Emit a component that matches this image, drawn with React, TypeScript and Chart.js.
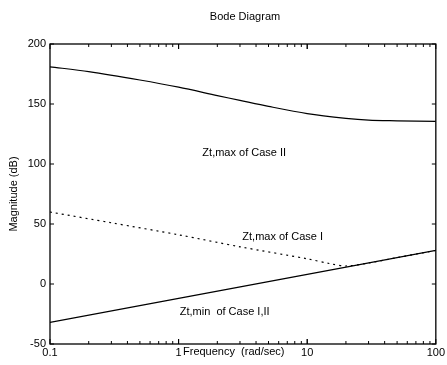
import React, { useEffect, useRef } from "react";
import { Chart, registerables } from "chart.js";

Chart.register(...registerables);

const caseIIFreq = [0.1, 0.2, 0.5, 1, 2, 3, 5, 10, 20, 30, 50, 100];
const caseIIMag = [181, 177, 170, 164, 157, 153, 148, 142, 138, 136.5, 136, 135.5];

const caseIFreq = [0.1, 0.3, 1, 3, 10, 15, 20, 30, 50, 100];
const caseIMag = [60, 51, 41, 31, 21, 17, 15, 17.5, 22, 28];

const minFreq = [0.1, 1, 10, 100];
const minMag = [-32, -12, 8, 28];

const xTicks = [0.1, 1, 10, 100];
const yTicks = [-50, 0, 50, 100, 150, 200];

const labelTexts = ["Zt,max of Case II", "Zt,max of Case I", "Zt,min  of Case I,II"];
const labelFreqs = [1.53, 3.13, 1.02];
const labelMags = [109, 39, -23];

const FONT = "'Liberation Sans', Arial, sans-serif";

const toPts = (xs: number[], ys: number[]) => xs.map((x, i) => ({ x, y: ys[i] }));

const framePlugin = {
  id: "frame",
  afterDraw(chart: any) {
    const { ctx, chartArea: a, scales } = chart;
    const xs = scales.x;
    const ys = scales.y;
    ctx.save();
    ctx.strokeStyle = "#000";
    ctx.lineWidth = 1.3;
    ctx.strokeRect(a.left, a.top, a.right - a.left, a.bottom - a.top);
    ctx.lineWidth = 1;
    ctx.beginPath();
    for (let d = 0.1; d < 100; d *= 10) {
      for (let m = 1; m <= 10; m++) {
        const v = d * m;
        const px = xs.getPixelForValue(v);
        const len = m === 1 || m === 10 ? 5 : 3;
        ctx.moveTo(px, a.bottom);
        ctx.lineTo(px, a.bottom - len);
        ctx.moveTo(px, a.top);
        ctx.lineTo(px, a.top + len);
      }
    }
    yTicks.forEach((v) => {
      const py = ys.getPixelForValue(v);
      ctx.moveTo(a.left, py);
      ctx.lineTo(a.left + 4, py);
      ctx.moveTo(a.right, py);
      ctx.lineTo(a.right - 4, py);
    });
    ctx.stroke();

    ctx.fillStyle = "#000";
    ctx.font = `11px ${FONT}`;
    ctx.textAlign = "center";
    ctx.textBaseline = "middle";
    ctx.fillText("Bode Diagram", 245, 17);
    ctx.textAlign = "left";
    ctx.fillText("Frequency  (rad/sec)", 183, 352);
    ctx.save();
    ctx.translate(14, 194);
    ctx.rotate(-Math.PI / 2);
    ctx.textAlign = "center";
    ctx.fillText("Magnitude (dB)", 0, 0);
    ctx.restore();

    ctx.textAlign = "left";
    labelTexts.forEach((t, i) => {
      ctx.fillText(t, xs.getPixelForValue(labelFreqs[i]), ys.getPixelForValue(labelMags[i]));
    });
    ctx.restore();
  },
};

export default function App() {
  const ref = useRef<HTMLCanvasElement>(null);
  useEffect(() => {
    document.body.style.margin = "0";
    const chart = new Chart(ref.current!, {
      type: "line",
      data: {
        datasets: [
          {
            data: toPts(caseIIFreq, caseIIMag),
            borderColor: "#000",
            borderWidth: 1.2,
            pointRadius: 0,
            tension: 0.3,
          },
          {
            data: toPts(caseIFreq, caseIMag),
            borderColor: "#000",
            borderWidth: 1.2,
            borderDash: [2, 4],
            pointRadius: 0,
            tension: 0.3,
          },
          {
            data: toPts(minFreq, minMag),
            borderColor: "#000",
            borderWidth: 1.2,
            pointRadius: 0,
            tension: 0,
          },
        ],
      },
      options: {
        animation: false,
        responsive: false,
        devicePixelRatio: 1,
        layout: { padding: { top: 44, right: 9, left: 0, bottom: 0 } },
        plugins: { legend: { display: false }, tooltip: { enabled: false } },
        scales: {
          x: {
            type: "logarithmic",
            min: 0.1,
            max: 100,
            afterBuildTicks: (s: any) => {
              s.ticks = xTicks.map((v) => ({ value: v }));
            },
            afterFit: (s: any) => {
              s.height = 21;
            },
            grid: { display: false, drawTicks: false },
            border: { display: false },
            ticks: {
              color: "#000",
              font: { family: FONT, size: 11 },
              padding: 2,
              maxRotation: 0,
              callback: (v: any) => String(v),
            },
          },
          y: {
            type: "linear",
            min: -50,
            max: 200,
            afterBuildTicks: (s: any) => {
              s.ticks = yTicks.map((v) => ({ value: v }));
            },
            afterFit: (s: any) => {
              s.width = 50;
            },
            grid: { display: false, drawTicks: false },
            border: { display: false },
            ticks: {
              color: "#000",
              font: { family: FONT, size: 11 },
              padding: 4,
            },
          },
        },
      },
      plugins: [framePlugin],
    } as any);
    return () => chart.destroy();
  }, []);
  return (
    <div style={{ width: 447, height: 365 }}>
      <canvas ref={ref} width={447} height={365} />
    </div>
  );
}
